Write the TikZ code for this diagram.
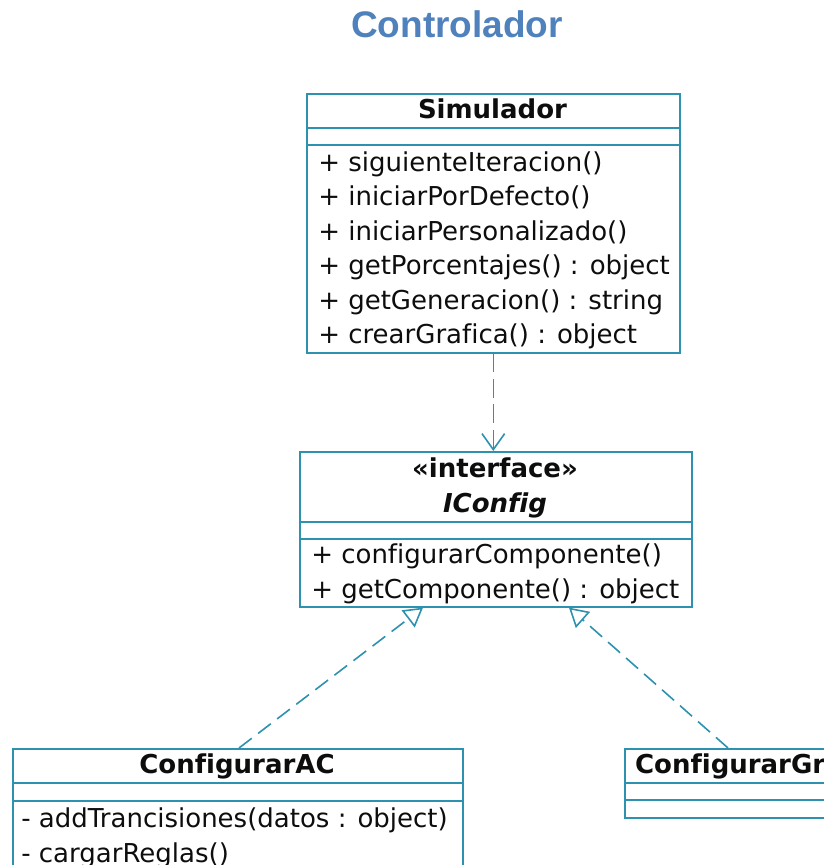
\documentclass[tikz,border=0pt]{standalone}
\usepackage{fontspec}
\setmainfont[Ligatures=NoCommon]{DejaVu Sans}
\newfontfamily\titlefont{Liberation Sans}
\usetikzlibrary{arrows.meta}

\definecolor{umlline}{RGB}{45,145,175}
\definecolor{titleblue}{RGB}{79,129,189}

\tikzset{
	classbox/.style={rectangle, draw=umlline, line width=1.2pt, anchor=north west, inner sep=0pt},
	sepline/.style={draw=umlline, line width=1.2pt},
	member/.style={anchor=base west, inner sep=0pt, text=black!95, font=\fontsize{19.5}{23}\selectfont},
	classname/.style={anchor=base, inner sep=0pt, text=black!95, font=\fontsize{19.5}{23}\selectfont\bfseries},
	depend/.style={draw=umlline, line width=1.2pt, dash pattern=on 14pt off 5pt, -{Straight Barb[length=12pt, width=17pt]}},
	realize/.style={draw=umlline, line width=1.2pt, dash pattern=on 12pt off 6pt, -{Triangle[open, length=14pt, width=16pt]}}
}

\begin{document}
\begin{tikzpicture}[x=0.75pt, y=-0.75pt]
	\useasboundingbox (0,0) rectangle (824,865);
	\clip (0,0) rectangle (824,865);

	% titulo
	\node[anchor=base, inner sep=0pt, text=titleblue, font=\titlefont\fontsize{27.75}{30}\selectfont\bfseries] (titulo) at (457,37) {Controlador};

	% Simulador
	\node[classbox, minimum width=279.75pt, minimum height=194.25pt] (sim) at (306,93) {};
	\draw[sepline] (306,128) -- (679,128);
	\draw[sepline] (306,145) -- (679,145);
	\node[classname] (simname) at (492.5,118) {Simulador};
	\node[member] (s1) at (318,171) {+ siguienteIteracion()};
	\node[member] (s2) at (318,205.5) {+ iniciarPorDefecto()};
	\node[member] (s3) at (318,240) {+ iniciarPersonalizado()};
	\node[member] (s4) at (318,274.5) {+ getPorcentajes() : object};
	\node[member] (s5) at (318,309) {+ getGeneracion() : string};
	\node[member] (s6) at (318,343.5) {+ crearGrafica() : object};

	% IConfig
	\node[classbox, minimum width=294pt, minimum height=116.25pt] (iconf) at (299,451) {};
	\draw[sepline] (299,522) -- (691,522);
	\draw[sepline] (299,539) -- (691,539);
	\node[classname] (stereo) at (495,477) {«interface»};
	\node[classname, font=\fontsize{19.5}{23}\selectfont\bfseries\itshape] (iconfname) at (495,512) {IConfig};
	\node[member] (i1) at (311,563) {+ configurarComponente()};
	\node[member] (i2) at (311,598) {+ getComponente() : object};

	% ConfigurarAC
	\node[classbox, minimum width=337.5pt, minimum height=120pt] (ac) at (12,748) {};
	\draw[sepline] (12,783) -- (462,783);
	\draw[sepline] (12,801) -- (462,801);
	\node[classname] (acname) at (237,773) {ConfigurarAC};
	\node[member] (a1) at (21,827) {- addTrancisiones(datos : object)};
	\node[member] (a2) at (21,862) {- cargarReglas()};

	% ConfigurarGrafica
	\node[classbox, minimum width=212.25pt, minimum height=51.75pt] (gr) at (624,748) {};
	\draw[sepline] (624,783) -- (907,783);
	\draw[sepline] (624,800) -- (907,800);
	\node[classname] (grname) at (765.5,773) {ConfigurarGrafica};

	% relaciones
	\coordinate (actop) at (239,748);
	\coordinate (grtop) at (728,748);
	\draw[depend] (sim.south) -- (sim.south |- iconf.north);
	\draw[realize] (actop) -- (iconf.south -| 423,0);
	\draw[realize] (grtop) -- (iconf.south -| 569,0);
\end{tikzpicture}
\end{document}
